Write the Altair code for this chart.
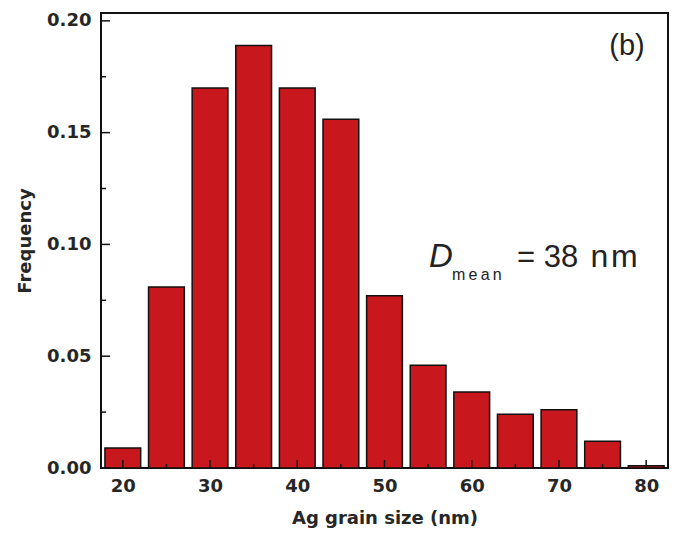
import altair as alt
import pandas as pd

# Data
sizes = [20, 25, 30, 35, 40, 45, 50, 55, 60, 65, 70, 75, 80]
freqs = [0.009, 0.081, 0.170, 0.189, 0.170, 0.156, 0.077, 0.046, 0.034, 0.024, 0.026, 0.012, 0.001]
x_major = [20, 30, 40, 50, 60, 70, 80]
x_minor = [25, 35, 45, 55, 65, 75]
y_major = [0.0, 0.05, 0.10, 0.15, 0.20]
y_minor = [0.025, 0.075, 0.125, 0.175]

HALF = 2.05
bars_df = pd.DataFrame({
    "size": sizes,
    "freq": freqs,
    "lo": [s - HALF for s in sizes],
    "hi": [s + HALF for s in sizes],
})

W, H = 567, 455
AXFONT = "DejaVu Sans"
FONT = "Liberation Sans"
TXT = "#262626"

xs = alt.Scale(domain=[17.5, 82.5], nice=False, zero=False)
ys = alt.Scale(domain=[0, 0.2035], nice=False)

xaxis = alt.Axis(
    title="Ag grain size (nm)", values=x_major, format="d",
    ticks=False, domain=False, grid=False,
    labelPadding=9, labelFontSize=18, labelFont=AXFONT, labelFontWeight="bold",
    labelColor=TXT, titleFont=AXFONT, titleFontSize=18, titleFontWeight="bold",
    titleColor=TXT, titlePadding=14)
yaxis = alt.Axis(
    title="Frequency", values=y_major, format=".2f",
    ticks=False, domain=False, grid=False,
    labelPadding=10, labelFontSize=18, labelFont=AXFONT, labelFontWeight="bold",
    labelColor=TXT, titleFont=AXFONT, titleFontSize=18, titleFontWeight="bold",
    titleColor=TXT, titlePadding=12)

bars = alt.Chart(bars_df).mark_rect(
    color="#C8181E", stroke="#111111", strokeWidth=1.5
).encode(
    x=alt.X("lo:Q", scale=xs, axis=xaxis),
    x2="hi:Q",
    y=alt.Y("freq:Q", scale=ys, axis=yaxis),
    y2=alt.datum(0),
)

def yticks(vals, length):
    return alt.Chart(pd.DataFrame({"v": vals})).mark_rule(
        color="#111111", strokeWidth=1.5
    ).encode(
        y=alt.Y("v:Q", scale=ys, axis=yaxis),
        x=alt.value(0), x2=alt.value(length),
    )

def xticks(vals, length):
    return alt.Chart(pd.DataFrame({"v": vals})).mark_rule(
        color="#111111", strokeWidth=1.5
    ).encode(
        x=alt.X("v:Q", scale=xs, axis=xaxis),
        y=alt.value(H), y2=alt.value(H - length),
    )

def label(txt, x, y, size, align="left", style="normal"):
    return alt.Chart(pd.DataFrame({"t": [txt]})).mark_text(
        font=FONT, fontSize=size, fontStyle=style, align=align,
        baseline="alphabetic", color="#222222"
    ).encode(text="t:N", x=alt.value(x), y=alt.value(y))

chart = alt.layer(
    bars,
    yticks(y_major, 9), yticks(y_minor, 5),
    xticks(x_major, 8), xticks(x_minor, 4),
    label("(b)", 526, 42, 29, align="center"),
    label("D", 328, 254, 33, style="italic"),
    label("m\u2009e\u2009a\u2009n", 351, 267, 16),
    label("=", 425, 254, 31, align="center"),
    label("38", 460, 254, 31, align="center"),
    label("n\u200am", 513, 254, 32, align="center"),
).properties(
    width=W, height=H,
    autosize=alt.AutoSizeParams(type="none"),
    padding={"left": 101, "top": 13, "right": 8, "bottom": 75},
    background="white",
).configure_view(
    stroke="#111111", strokeWidth=2
)

chart.save("out.html", embed_options={"renderer": "svg", "actions": False})
